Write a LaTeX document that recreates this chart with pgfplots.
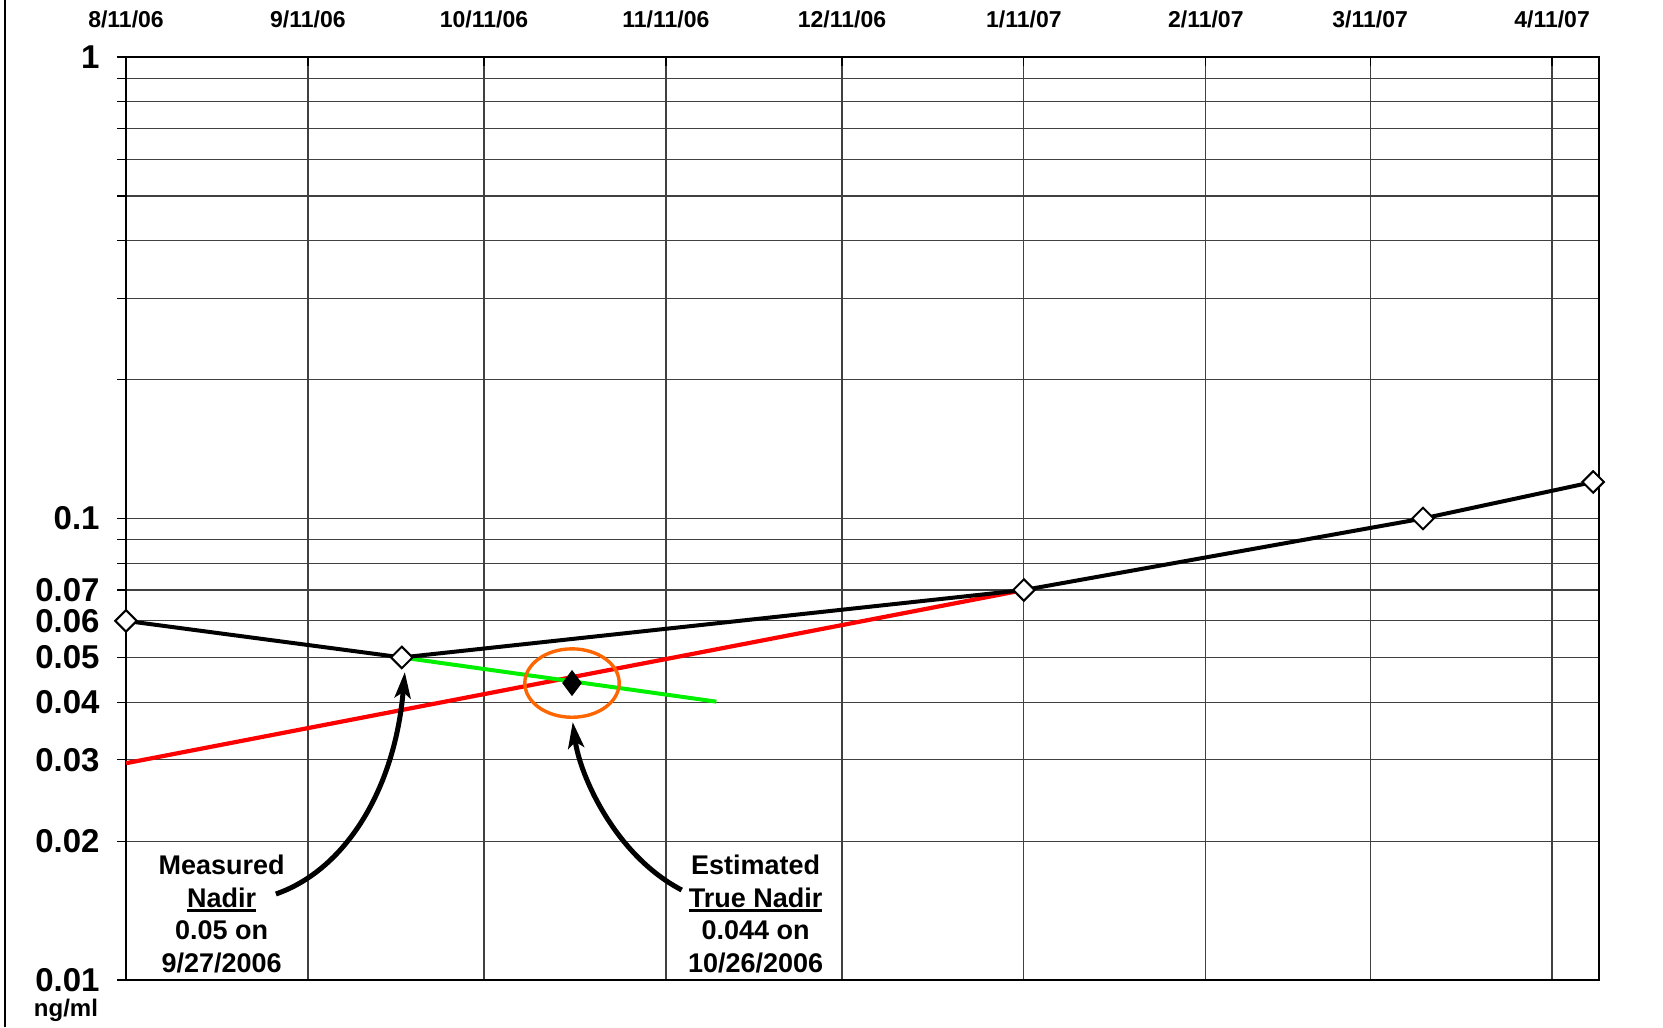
\documentclass[border=0pt]{standalone}
\usepackage{pgfplots}
\pgfplotsset{compat=1.18}
\usepackage{fontspec}
\setmainfont{Liberation Sans}
\usetikzlibrary{arrows.meta}
\definecolor{trendred}{RGB}{255,0,0}
\definecolor{slopegreen}{RGB}{0,240,0}
\definecolor{ringorange}{RGB}{255,102,0}
% thick underline for the annotation keywords
\newcommand\thickul[1]{\setbox0\hbox{#1}\rlap{\rule[-2.6pt]{\wd0}{1.5pt}}\box0}
\begin{document}
\begin{tikzpicture}
\useasboundingbox (-63pt,-23.5pt) rectangle (768.5pt,490pt);
\begin{axis}[
  at={(0,0)}, anchor=south west,
  scale only axis, width=736.5pt, height=461.5pt,
  ymode=log, ymin=0.01, ymax=1,
  xmin=0, xmax=251,
  xtick={0,31,61,92,122,153,184,212,243},
  xticklabels={8/11/06,9/11/06,10/11/06,11/11/06,12/11/06,1/11/07,2/11/07,3/11/07,4/11/07},
  xtick pos=upper, xticklabel pos=upper,
  xtick align=inside,
  xticklabel style={font=\fontsize{11.5}{11.5}\selectfont\bfseries, anchor=center, yshift=18.8pt},
  ytick={0.01,0.02,0.03,0.04,0.05,0.06,0.07,0.1,1},
  yticklabels={0.01,0.02,0.03,0.04,0.05,0.06,0.07,0.1,1},
  minor ytick={0.08,0.09,0.2,0.3,0.4,0.5,0.6,0.7,0.8,0.9},
  ytick pos=left, ytick align=outside,
  yticklabel style={font=\fontsize{16.5}{16.5}\selectfont\bfseries, anchor=east, inner sep=0pt, xshift=-8.5pt},
  xmajorgrids, ymajorgrids, yminorgrids,
  major grid style={black!75, line width=0.6pt},
  minor grid style={black!75, line width=0.6pt},
  major tick length=4.5pt, minor tick length=4.5pt,
  tick style={black, line width=0.6pt},
  axis line style={line width=0.8pt},
  clip=false,
]
% log-linear trend through the later values
\addplot[trendred, line width=2.1pt] coordinates {(0,0.0295) (153,0.07)};
% declining slope after the measured nadir
\addplot[slopegreen, line width=2pt] coordinates {(47,0.05) (100.6,0.0401)};
% measured PSA values
\addplot[black, line width=2pt, mark=square*, mark size=3.8pt,
  mark options={rotate=45, fill=white, draw=black, line width=1pt, solid}]
  coordinates {(0,0.06) (47,0.05) (153,0.07) (221,0.1) (250,0.12)};
% estimated true nadir
\addplot[only marks, mark=diamond*, mark size=6.2pt, mark options={fill=black, draw=black}]
  coordinates {(76,0.044)};
\draw[ringorange, line width=1.7pt] (axis cs:76,0.044) ellipse [x radius=23.6pt, y radius=17.1pt];
% callout arrows
\draw[line width=2.5pt, -{Stealth[length=13pt,width=8pt,inset=3pt]}]
  (axis cs:25.54,0.01536) .. controls (axis cs:37.30,0.01731) and (axis cs:45.81,0.02580) .. (axis cs:47.51,0.04649);
\draw[line width=2.5pt, -{Stealth[length=13pt,width=8pt,inset=3pt]}]
  (axis cs:94.69,0.01567) .. controls (axis cs:83.28,0.01866) and (axis cs:77.32,0.02781) .. (axis cs:76.12,0.03623);
\node[align=center, font=\fontsize{13.5}{16.4}\selectfont\bfseries] at (axis cs:16.3,0.0139)
  {Measured\\\thickul{Nadir}\\0.05 on\\9/27/2006};
\node[align=center, font=\fontsize{13.5}{16.4}\selectfont\bfseries] at (axis cs:107.3,0.0139)
  {Estimated\\\thickul{True Nadir}\\0.044 on\\10/26/2006};
\node[font=\fontsize{12}{12}\selectfont\bfseries, xshift=-30pt, yshift=-15pt] at (rel axis cs:0,0) {ng/ml};
\end{axis}
\draw[line width=1pt] (-60.5pt,-23.5pt) -- (-60.5pt,490pt);
\end{tikzpicture}
\end{document}
